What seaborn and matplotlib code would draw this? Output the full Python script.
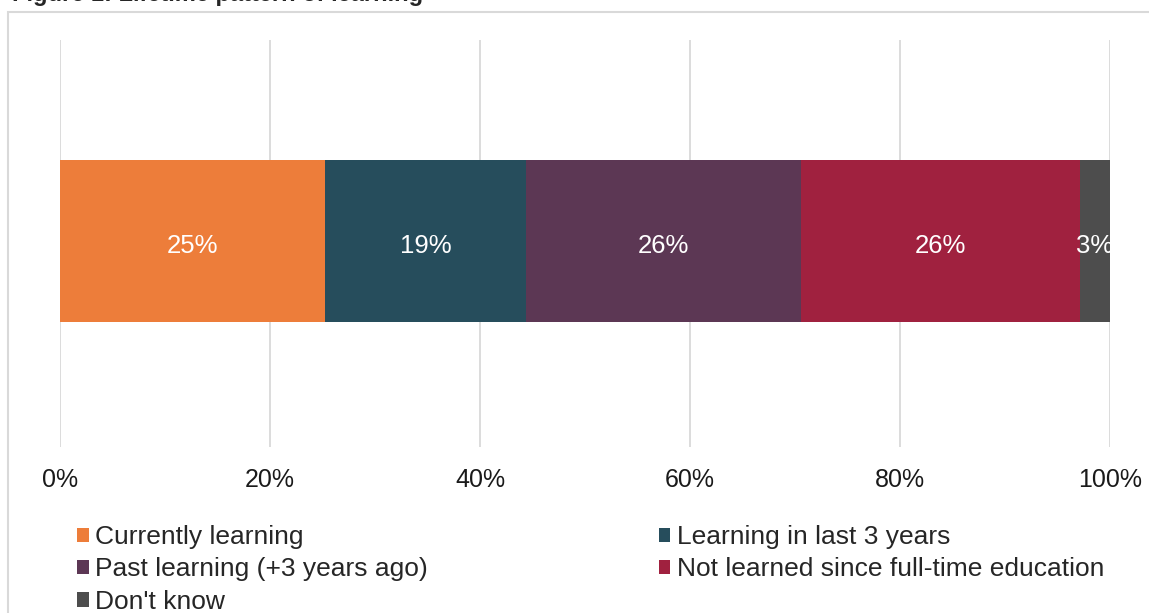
import numpy as np
import pandas as pd
import matplotlib.pyplot as plt
import seaborn as sns
from matplotlib.patches import Patch, Rectangle

# Chart data
categories = [
    "Currently learning",
    "Learning in last 3 years",
    "Past learning (+3 years ago)",
    "Not learned since full-time education",
    "Don't know",
]
shares = [25.2, 19.2, 26.2, 26.5, 2.9]
share_labels = ["25%", "19%", "26%", "26%", "3%"]
colors = ["#ED7D3A", "#264D5C", "#5C3754", "#A0213F", "#4D4D4D"]
tick_values = [0, 20, 40, 60, 80, 100]
tick_labels = ["0%", "20%", "40%", "60%", "80%", "100%"]
title = "Figure 1: Lifetime pattern of learning"

W, H = 1149, 613

sns.set_theme(style="white")
plt.rcParams["font.family"] = ["Liberation Sans", "DejaVu Sans"]

fig = plt.figure(figsize=(W / 100, H / 100), dpi=100)
ax = fig.add_axes([60 / W, 1 - 447 / H, 1050 / W, 407 / H])

# Stacked bar: draw cumulative bars, widest first
cum = np.cumsum(shares)
df = pd.DataFrame({"category": categories, "cum": cum, "row": [""] * len(categories)})
sns.barplot(
    data=df,
    x="cum",
    y="row",
    hue="category",
    hue_order=categories[::-1],
    palette=colors[::-1],
    dodge=False,
    saturation=1,
    width=1.0,
    orient="h",
    legend=False,
    linewidth=0,
    ax=ax,
)

# Value labels
for c, s, lab in zip(cum, shares, share_labels):
    ax.text(c - s / 2, 0.03, lab, ha="center", va="center", color="white", fontsize=18.5)

ax.set_xlim(0, 100)
ax.set_ylim(1.265, -1.235)
ax.set_xticks(tick_values)
ax.set_xticklabels(tick_labels)
ax.set_yticks([])
ax.set_xlabel("")
ax.set_ylabel("")
ax.tick_params(axis="x", length=0, pad=15, labelsize=18, labelcolor="#1a1a1a")
ax.grid(axis="x", color="#D9D9D9", linewidth=1.3)
ax.set_axisbelow(True)
for sp in ax.spines.values():
    sp.set_visible(False)

# Legend, row-major order in two columns
handles = [Patch(facecolor=col, edgecolor="none", label=cat) for cat, col in zip(categories, colors)]
order = [0, 2, 4, 1, 3]
fig.legend(
    handles=[handles[i] for i in order],
    labels=[categories[i] for i in order],
    loc="upper left",
    bbox_to_anchor=(77 / W, 1 - 525 / H),
    ncol=2,
    frameon=False,
    fontsize=19,
    handlelength=0.45,
    handleheight=0.45,
    handletextpad=0.25,
    columnspacing=8.73,
    labelspacing=0.32,
    borderpad=0,
    borderaxespad=0,
)

# Chart border and clipped title
fig.patches.append(
    Rectangle((8 / W, -0.1), 1.2, 1 - 12 / H + 0.1, transform=fig.transFigure,
              fill=False, edgecolor="#D9D9D9", linewidth=1.5)
)
fig.text(12 / W, 1 - 1 / H, title, fontsize=17, fontweight="bold", va="baseline", ha="left")

fig.savefig("out.png", dpi=100)
